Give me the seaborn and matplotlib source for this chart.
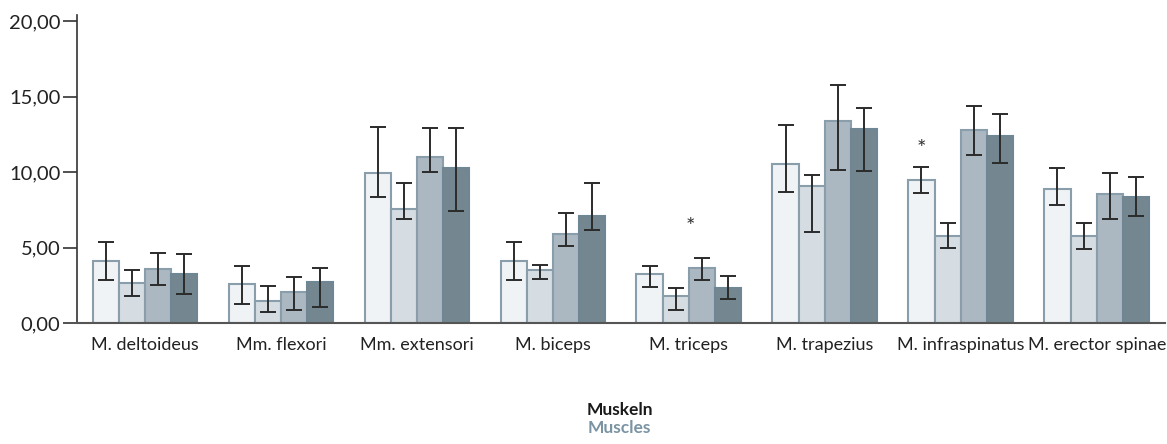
import numpy as np
import pandas as pd
import matplotlib.pyplot as plt
import seaborn as sns
from matplotlib.ticker import FixedLocator, FuncFormatter

# Data
muscles = ["M. deltoideus", "Mm. flexori", "Mm. extensori", "M. biceps",
           "M. triceps", "M. trapezius", "M. infraspinatus", "M. erector spinae"]
series = ["S1", "S2", "S3", "S4"]

mean_s1 = [4.10, 2.60, 9.97, 4.12, 3.26, 10.56, 9.50, 8.88]
mean_s2 = [2.65, 1.48, 7.54, 3.50, 1.80, 9.06, 5.75, 5.75]
mean_s3 = [3.57, 2.07, 11.02, 5.90, 3.66, 13.40, 12.76, 8.53]
mean_s4 = [3.24, 2.76, 10.25, 7.12, 2.33, 12.83, 12.37, 8.35]

low_s1 = [2.85, 1.28, 8.36, 2.86, 2.40, 8.68, 8.64, 7.80]
low_s2 = [1.79, 0.74, 6.92, 2.95, 0.90, 6.06, 4.96, 4.91]
low_s3 = [2.50, 0.90, 10.00, 5.13, 2.84, 10.14, 11.15, 6.88]
low_s4 = [1.94, 1.10, 7.43, 6.19, 1.61, 10.07, 10.62, 7.10]

high_s1 = [5.36, 3.79, 12.98, 5.38, 3.79, 13.14, 10.32, 10.29]
high_s2 = [3.50, 2.47, 9.26, 3.88, 2.33, 9.81, 6.61, 6.61]
high_s3 = [4.64, 3.07, 12.92, 7.30, 4.32, 15.80, 14.37, 9.92]
high_s4 = [4.57, 3.66, 12.92, 9.30, 3.15, 14.22, 13.86, 9.66]

# significance stars: (muscle index, x offset within group, height)
stars = [(4, 0.01, 6.35), (6, -0.29, 11.55)]

colors = ["#eff3f6", "#d3dee4", "#a8b9c4", "#6f8795"]
edge = "#8a9dab"

means = [mean_s1, mean_s2, mean_s3, mean_s4]
lows = [low_s1, low_s2, low_s3, low_s4]
highs = [high_s1, high_s2, high_s3, high_s4]

rows = []
for s, m, lo, hi in zip(series, means, lows, highs):
    for mu, v, l, h in zip(muscles, m, lo, hi):
        rows.append({"muscle": mu, "series": s, "value": v, "low": l, "high": h})
df = pd.DataFrame(rows)

sns.set_style("white")
plt.rcParams["font.family"] = ["Lato", "DejaVu Sans"]

fig = plt.figure(figsize=(11.67, 4.44), dpi=100)
ax = fig.add_axes([0.066, 0.272, 0.932, 0.694])

sns.barplot(data=df, x="muscle", y="value", hue="series", order=muscles,
            hue_order=series, palette=colors, width=0.77, gap=0,
            errorbar=None, legend=False, ax=ax,
            edgecolor=edge, linewidth=1.5)

# bar 4 has no visible outline
for p in ax.patches[3 * len(muscles):4 * len(muscles)]:
    p.set_edgecolor(colors[3])

# error bars from the bar centres
for i, s in enumerate(series):
    sub = df[df.series == s]
    bars = ax.patches[i * len(muscles):(i + 1) * len(muscles)]
    xs = [b.get_x() + b.get_width() / 2 for b in bars]
    v = sub["value"].values
    ax.errorbar(xs, v, yerr=[v - sub["low"].values, sub["high"].values - v],
                fmt="none", ecolor="#2b2b2b", elinewidth=1.4, capsize=5.5,
                capthick=1.4)

for idx, dx, h in stars:
    ax.text(idx + dx, h, "*", ha="center", va="center", fontsize=16,
            color="#333333")

ax.set_xlim(-0.5, len(muscles) - 0.5)
ax.set_ylim(0, 20.4)
ax.set_yticks([0, 5, 10, 15, 20])
ax.yaxis.set_major_formatter(FuncFormatter(lambda v, p: f"{v:.2f}".replace(".", ",")))
ax.xaxis.set_minor_locator(FixedLocator(np.arange(-0.5, len(muscles), 1)))
ax.tick_params(axis="x", which="major", length=0, labelsize=13, pad=10,
               labelcolor="#222222")
ax.tick_params(axis="x", which="minor", length=10, width=1.2, color="#333333",
               direction="out")
ax.tick_params(axis="y", length=10, width=1.2, color="#333333", labelsize=14.5,
               labelcolor="#222222", direction="out", left=True, pad=2)
ax.set_xlabel("")
ax.set_ylabel("")

for side in ["top", "right"]:
    ax.spines[side].set_visible(False)
ax.spines["left"].set_color("#333333")
ax.spines["left"].set_linewidth(1.2)
ax.spines["bottom"].set_color("#555555")
ax.spines["bottom"].set_linewidth(1.5)

fig.text(0.531, 0.076, "Muskeln", ha="center", va="center", fontsize=12.5,
         fontweight="bold", color="#1a1a1a")
fig.text(0.531, 0.036, "Muscles", ha="center", va="center", fontsize=12.5,
         fontweight="bold", color="#7b94a4")

fig.savefig("out.png", dpi=100)
